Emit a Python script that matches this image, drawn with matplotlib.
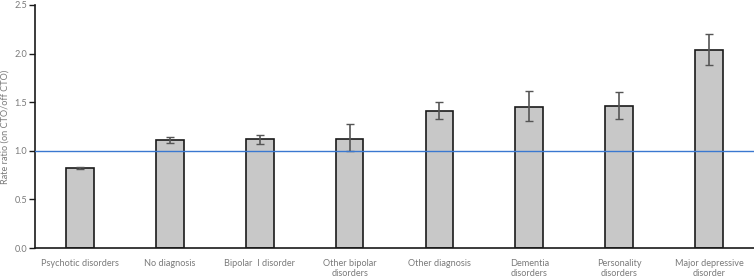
import matplotlib.pyplot as plt
import numpy as np

categories = ['Psychotic disorders', 'No diagnosis', 'Bipolar  I disorder', 'Other bipolar\ndisorders',
              'Other diagnosis', 'Dementia\ndisorders', 'Personality\ndisorders', 'Major depressive\ndisorder']
rate_ratio = [0.82, 1.115, 1.12, 1.12, 1.413, 1.45, 1.463, 2.033]
ci_low = [0.81, 1.083, 1.07, 0.995, 1.324, 1.31, 1.327, 1.88]
ci_high = [0.83, 1.145, 1.166, 1.273, 1.502, 1.612, 1.608, 2.198]

plt.rcParams['font.family'] = ['Lato', 'DejaVu Sans']

fig = plt.figure(figsize=(7.54, 2.8), dpi=100)
ax = fig.add_axes([35 / 754, 32 / 280, 719 / 754, 243 / 280])

x = np.arange(len(categories))
vals = np.array(rate_ratio)
yerr = [vals - np.array(ci_low), np.array(ci_high) - vals]

ax.bar(x, vals, width=0.31, color='#c8c8c8', edgecolor='#1a1a1a', linewidth=1.2, zorder=2)
ax.errorbar(x, vals, yerr=yerr, fmt='none', ecolor='#555555', elinewidth=1.2, capsize=3, capthick=1.0, zorder=3)
ax.axhline(1.0, color='#3a78d0', linewidth=1.0, zorder=4)

ax.set_xlim(-0.5, 7.5)
ax.set_ylim(0, 2.5)
ax.set_yticks([0, 0.5, 1.0, 1.5, 2.0, 2.5])
ax.set_yticklabels(['0.0', '0.5', '1.0', '1.5', '2.0', '2.5'])
ax.set_xticks(x)
ax.set_xticklabels(categories)
ax.tick_params(axis='x', length=0, pad=8, labelsize=6.6, labelcolor='#7a7a7a')
ax.tick_params(axis='y', length=4, width=1, pad=1.5, labelsize=6.6, labelcolor='#7a7a7a', color='#1a1a1a')
for lbl in ax.get_xticklabels():
    lbl.set_linespacing(1.15)

fig.text(0.007, 32 / 280 + 243 / 280 / 2, 'Rate ratio (on CTO/off CTO)', rotation=90,
         fontsize=6.6, color='#7a7a7a', ha='center', va='center')

ax.spines['top'].set_visible(False)
ax.spines['right'].set_visible(False)
ax.spines['left'].set_color('#1a1a1a')
ax.spines['bottom'].set_color('#1a1a1a')
ax.spines['left'].set_linewidth(1.2)
ax.spines['bottom'].set_linewidth(1.2)

fig.savefig('out.png', dpi=100)
